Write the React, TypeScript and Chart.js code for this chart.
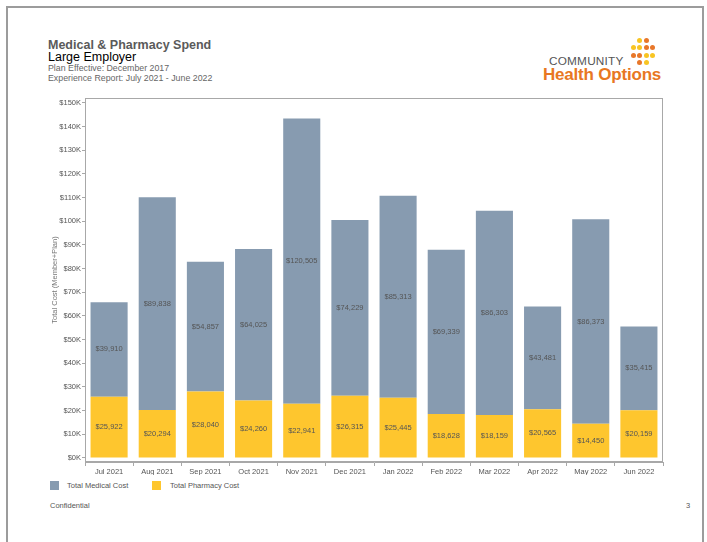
import React, { useEffect, useRef } from "react";
import { Chart, registerables } from "chart.js";

Chart.register(...registerables);

const categories = ["Jul 2021", "Aug 2021", "Sep 2021", "Oct 2021", "Nov 2021", "Dec 2021", "Jan 2022", "Feb 2022", "Mar 2022", "Apr 2022", "May 2022", "Jun 2022"];
const pharmacyCost = [25922, 20294, 28040, 24260, 22941, 26315, 25445, 18628, 18159, 20565, 14450, 20159];
const medicalCost = [39910, 89838, 54857, 64025, 120505, 74229, 85313, 69339, 86303, 43481, 86373, 35415];
const yTickValues = [0, 10000, 20000, 30000, 40000, 50000, 60000, 70000, 80000, 90000, 100000, 110000, 120000, 130000, 140000, 150000];

const MED_COLOR = "#879bb0";
const PHARM_COLOR = "#fec62e";
const FONT = "'Liberation Sans', Arial, sans-serif";

const fmt = (v: number) => "$" + v.toLocaleString("en-US");

const framePlugin = {
  id: "frame",
  afterDraw(chart: any) {
    const { ctx, chartArea } = chart;
    ctx.save();
    ctx.strokeStyle = "#a8a8a8";
    ctx.lineWidth = 1;
    ctx.strokeRect(chartArea.left + 0.5, chartArea.top + 0.5, chartArea.right - chartArea.left - 1, chartArea.bottom - chartArea.top - 1);
    ctx.translate(55, (chartArea.top + chartArea.bottom) / 2);
    ctx.rotate(-Math.PI / 2);
    ctx.fillStyle = "#777";
    ctx.font = "7.5px " + FONT;
    ctx.textAlign = "center";
    ctx.textBaseline = "middle";
    ctx.fillText("Total Cost (Member+Plan)", 0, 0);
    ctx.restore();
  },
};

const labelPlugin = {
  id: "segLabels",
  afterDatasetsDraw(chart: any) {
    const { ctx } = chart;
    ctx.save();
    ctx.fillStyle = "#555";
    ctx.font = "7.5px " + FONT;
    ctx.textAlign = "center";
    ctx.textBaseline = "middle";
    chart.data.datasets.forEach((ds: any, di: number) => {
      const meta = chart.getDatasetMeta(di);
      meta.data.forEach((bar: any, i: number) => {
        const y = (bar.y + bar.base) / 2;
        ctx.fillText(fmt(ds.data[i]), bar.x, y);
      });
    });
    ctx.restore();
  },
};

function ChartCanvas() {
  const ref = useRef<HTMLCanvasElement>(null);
  useEffect(() => {
    const chart = new Chart(ref.current!, {
      type: "bar",
      data: {
        labels: categories,
        datasets: [
          { label: "Total Pharmacy Cost", data: pharmacyCost, backgroundColor: PHARM_COLOR, barPercentage: 0.77, categoryPercentage: 1 },
          { label: "Total Medical Cost", data: medicalCost, backgroundColor: MED_COLOR, barPercentage: 0.77, categoryPercentage: 1 },
        ],
      },
      options: {
        animation: false,
        responsive: false,
        maintainAspectRatio: false,
        layout: { padding: { left: 0, right: 44, top: 8, bottom: 0 } },
        plugins: { legend: { display: false }, tooltip: { enabled: false } },
        scales: {
          x: {
            stacked: true,
            grid: { drawOnChartArea: false, drawTicks: true, tickLength: 4, color: "#a8a8a8", offset: true },
            border: { color: "#a8a8a8" },
            ticks: { color: "#555", font: { size: 7.5, family: FONT }, padding: 1, maxRotation: 0, autoSkip: false },
            afterFit: (s: any) => { s.height = 13; },
          },
          y: {
            stacked: true,
            min: -1700,
            max: 152100,
            afterBuildTicks: (s: any) => { s.ticks = yTickValues.map((v) => ({ value: v })); },
            grid: { drawOnChartArea: false, drawTicks: true, tickLength: 3, color: "#a8a8a8" },
            border: { color: "#a8a8a8" },
            ticks: {
              color: "#555",
              font: { size: 7.5, family: FONT },
              padding: 1,
              callback: (v: any) => "$" + Math.round(Number(v) / 1000) + "K",
            },
            afterFit: (s: any) => { s.width = 85; },
          },
        },
      },
      plugins: [framePlugin, labelPlugin],
    });
    return () => chart.destroy();
  }, []);
  return <canvas ref={ref} width={707} height={385} style={{ position: "absolute", left: 0, top: 90, width: 707, height: 385 }} />;
}

const dots: [number, number, string][] = [
  [639, 40, "y"], [646, 40, "o"],
  [633, 47, "y"], [639, 47, "y"], [646, 47, "o"], [652, 47, "o"],
  [633, 55, "o"], [639, 55, "o"], [646, 55, "y"], [652, 55, "y"],
  [639, 62, "o"], [646, 62, "y"],
];

export default function App() {
  const abs = (s: React.CSSProperties): React.CSSProperties => ({ position: "absolute", whiteSpace: "nowrap", fontFamily: FONT, ...s });
  return (
    <div style={{ position: "absolute", left: 0, top: 0, width: 707, height: 542, background: "#fff", overflow: "hidden" }}>
      <div style={{ position: "absolute", left: 6, top: 6, width: 694, height: 600, border: "2px solid #9c9c9c" }} />
      <div style={abs({ left: 48, top: 38, fontSize: 12.5, fontWeight: "bold", color: "#5a5a5a", lineHeight: "15px" })}>Medical &amp; Pharmacy Spend</div>
      <div style={abs({ left: 48, top: 50, fontSize: 12.5, color: "#000", lineHeight: "15px" })}>Large Employer</div>
      <div style={abs({ left: 48, top: 63, fontSize: 8.8, color: "#666", lineHeight: "11px" })}>Plan Effective: December 2017</div>
      <div style={abs({ left: 48, top: 73, fontSize: 8.8, color: "#666", lineHeight: "11px" })}>Experience Report: July 2021 - June 2022</div>

      <div style={abs({ left: 549, top: 54, fontSize: 11.8, color: "#555", letterSpacing: 0.2, lineHeight: "14px" })}>COMMUNITY</div>
      <div style={abs({ left: 543, top: 65, fontSize: 17, fontWeight: "bold", color: "#e87722", letterSpacing: -0.2, lineHeight: "20px" })}>Health Options</div>
      {dots.map(([x, y, c], i) => (
        <div key={i} style={{ position: "absolute", left: x - 2.5, top: y - 2.5, width: 5, height: 5, borderRadius: "50%", background: c === "y" ? "#f8c523" : "#e8772a" }} />
      ))}

      <ChartCanvas />

      <div style={{ position: "absolute", left: 50, top: 481, width: 9, height: 9, background: MED_COLOR }} />
      <div style={abs({ left: 67, top: 480, fontSize: 7.5, color: "#555", lineHeight: "11px" })}>Total Medical Cost</div>
      <div style={{ position: "absolute", left: 152, top: 481, width: 9, height: 9, background: PHARM_COLOR }} />
      <div style={abs({ left: 170, top: 480, fontSize: 7.5, color: "#555", lineHeight: "11px" })}>Total Pharmacy Cost</div>

      <div style={abs({ left: 50, top: 500, fontSize: 7.5, color: "#555", lineHeight: "11px" })}>Confidential</div>
      <div style={abs({ left: 686, top: 500, fontSize: 7.5, color: "#555", lineHeight: "11px" })}>3</div>
    </div>
  );
}
